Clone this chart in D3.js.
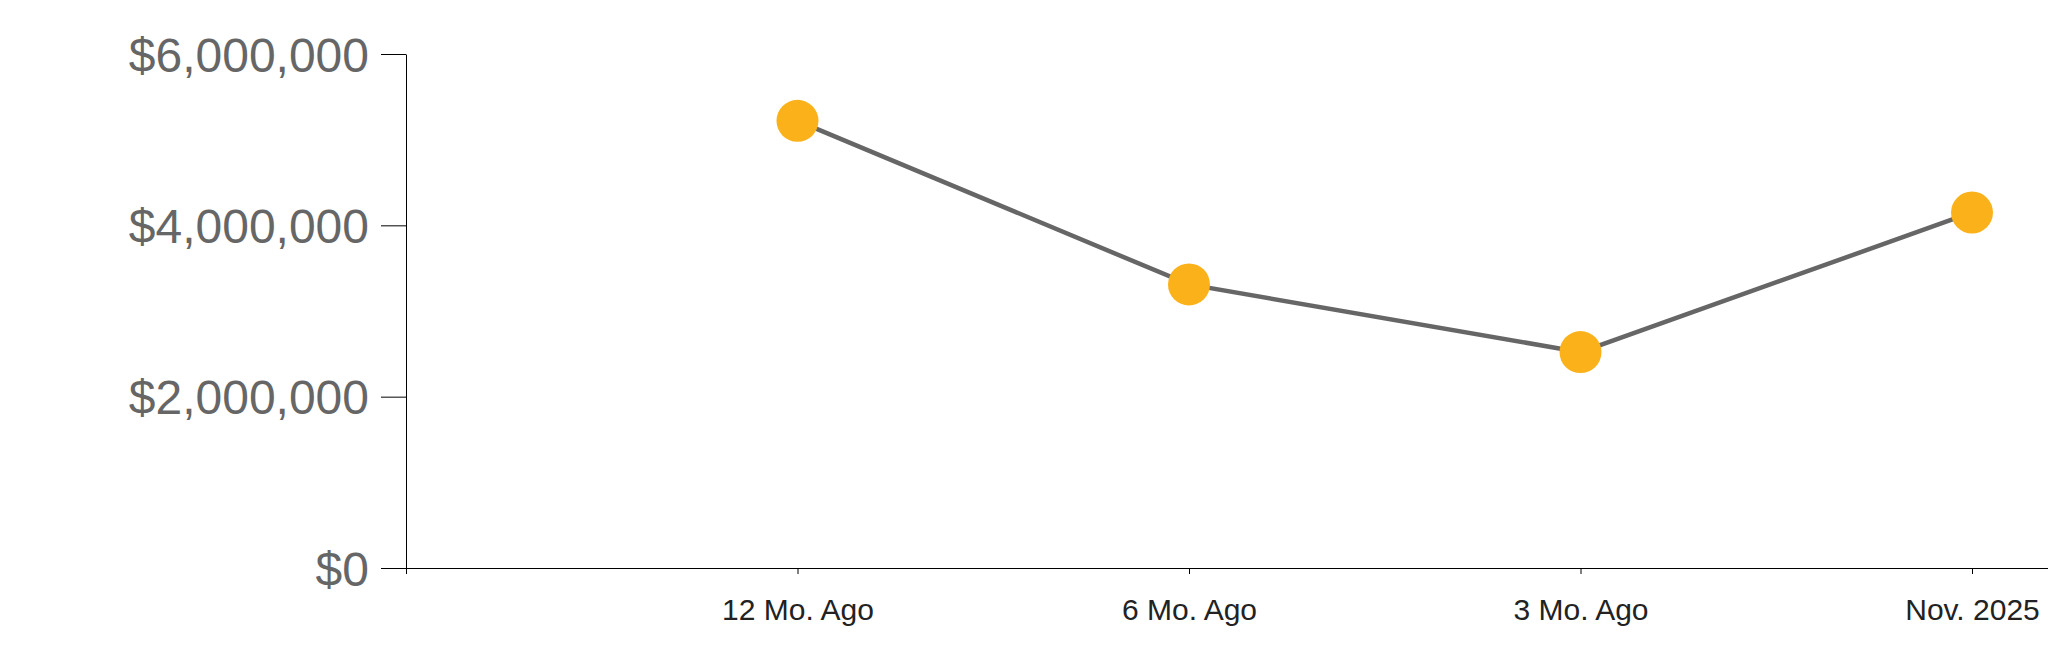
<!DOCTYPE html>
<html>
<head>
<meta charset="utf-8">
<script src="https://cdn.jsdelivr.net/npm/d3@7"></script>
<style>
  html, body { margin: 0; padding: 0; background: #fff; }
  svg { display: block; }
</style>
</head>
<body>
<svg id="chart" width="2048" height="663"></svg>
<script>
const categories = ["", "12 Mo. Ago", "6 Mo. Ago", "3 Mo. Ago", "Nov. 2025"];
const seriesLabels = ["12 Mo. Ago", "6 Mo. Ago", "3 Mo. Ago", "Nov. 2025"];
const seriesValues = [5220000, 3310000, 2520000, 4150000];
const yTicks = [0, 2000000, 4000000, 6000000];

const W = 2048, H = 663;
const margin = { left: 406, top: 54, bottom: 95, rightPoint: 76 };
const svg = d3.select("#chart");

const x = d3.scalePoint().domain(categories).range([margin.left, W - margin.rightPoint]);
const y = d3.scaleLinear().domain([0, 6000000]).range([H - margin.bottom, margin.top]);

const fmt = v => "$" + d3.format(",")(v);

// Y axis
const gy = svg.append("g")
  .attr("transform", `translate(${margin.left},0)`)
  .call(d3.axisLeft(y).tickValues(yTicks).tickFormat(fmt).tickSizeInner(25).tickSizeOuter(0).tickPadding(12));
gy.select(".domain").attr("stroke", "#000");
gy.selectAll(".tick line").attr("stroke", "#000");
gy.selectAll(".tick text")
  .attr("fill", "#666")
  .attr("dy", "0.36em")
  .style("font-family", "Arial, 'Liberation Sans', sans-serif")
  .style("font-size", "48px");

// X axis
const gx = svg.append("g")
  .attr("transform", `translate(0,${y(0)})`)
  .call(d3.axisBottom(x).tickSizeInner(6).tickSizeOuter(0).tickPadding(25));
gx.select(".domain").attr("d", `M${margin.left},0.5H${W}`).attr("stroke", "#000");
gx.selectAll(".tick line").attr("stroke", "#000");
gx.selectAll(".tick text")
  .attr("fill", "#222")
  .style("font-family", "Arial, 'Liberation Sans', sans-serif")
  .style("font-size", "30px");

// Line
const data = seriesLabels.map((c, i) => ({ c, v: seriesValues[i] }));
svg.append("path")
  .datum(data)
  .attr("fill", "none")
  .attr("stroke", "#666")
  .attr("stroke-width", 4.5)
  .attr("d", d3.line().x(d => x(d.c)).y(d => y(d.v)));

// Points
svg.selectAll("circle.pt")
  .data(data)
  .join("circle")
  .attr("class", "pt")
  .attr("cx", d => x(d.c))
  .attr("cy", d => y(d.v))
  .attr("r", 21)
  .attr("fill", "#fbb21a");
</script>
</body>
</html>
